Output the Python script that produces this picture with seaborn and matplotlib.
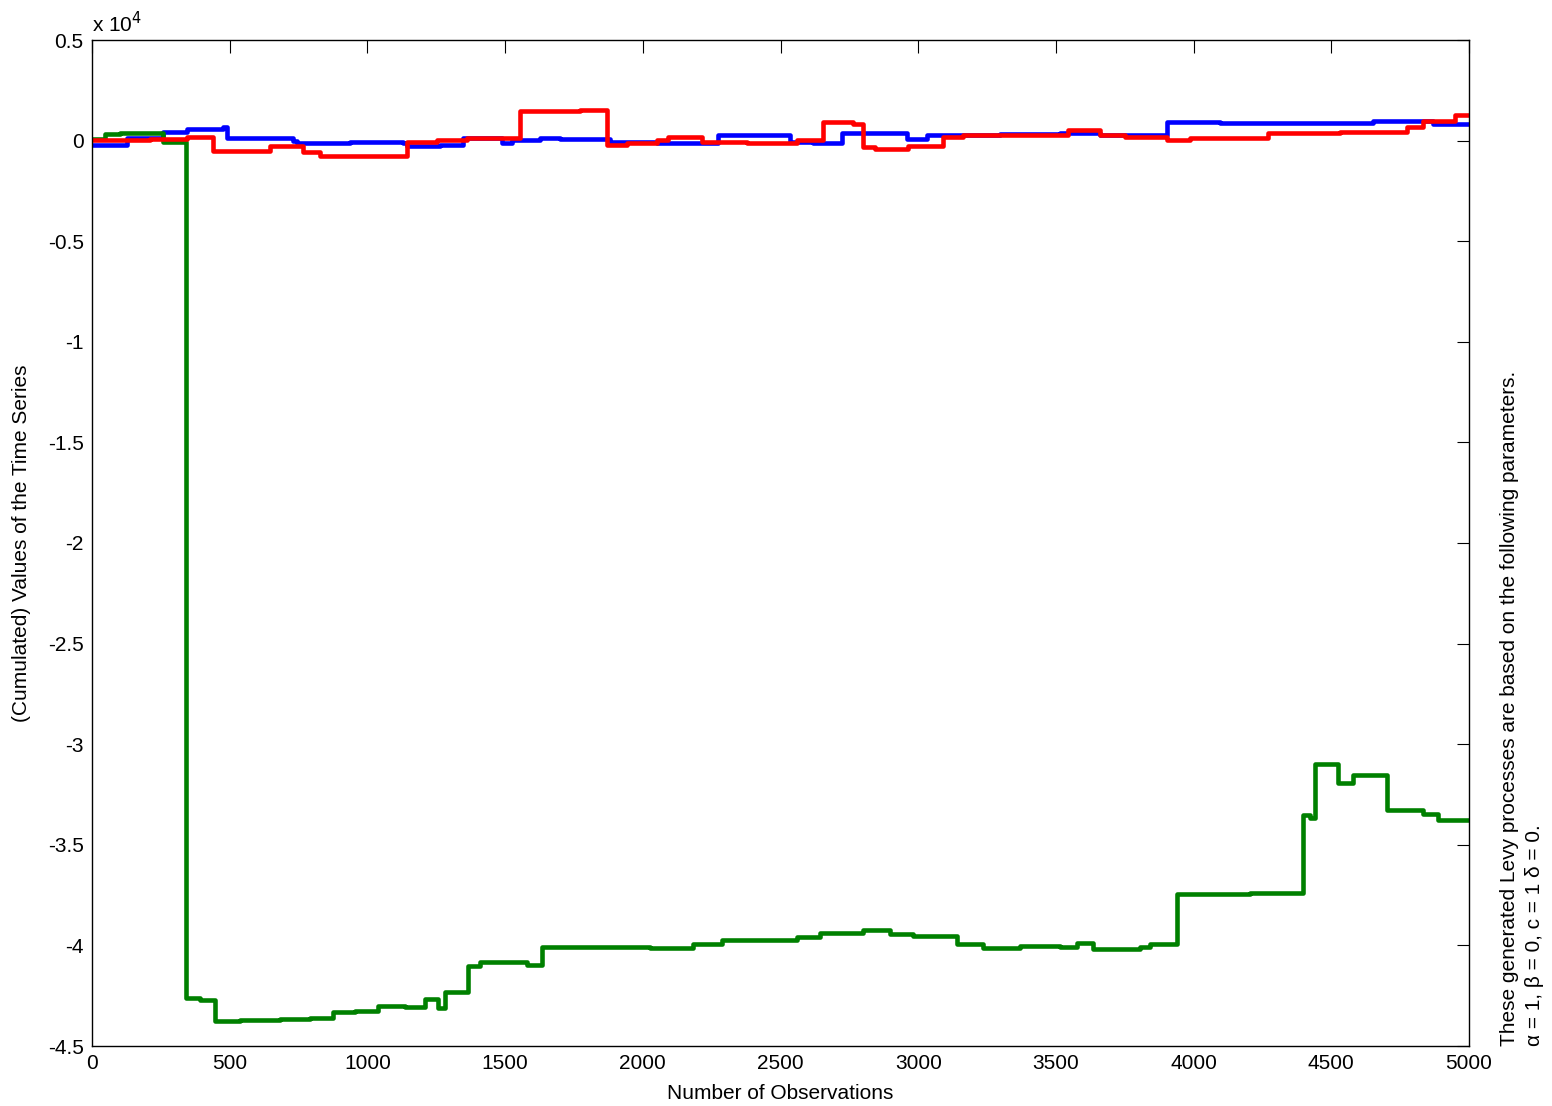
import numpy as np
import pandas as pd
import matplotlib
matplotlib.use("Agg")
import matplotlib.pyplot as plt
import seaborn as sns

# ---- data (step knots: value holds from x onward) ----
blue_x = [0, 127, 258, 345, 476, 490, 730, 744, 937, 1129, 1144, 1264, 1347, 1489, 1525, 1627,
          1699, 1881, 2052, 2182, 2273, 2534, 2618, 2723, 2959, 3032, 3297, 3515, 3660, 3903,
          4070, 4096, 4651, 4869, 5000]
blue_y = [-220, 110, 440, 560, 660, 110, 0, -130, -70, -130, -270, -220, 110, -130, 50, 110,
          60, -50, -130, -100, 280, -50, -130, 360, 60, 280, 330, 360, 280, 910,
          920, 860, 990, 830, 830]

green_x = [0, 47, 102, 258, 341, 392, 447, 537, 683, 792, 875, 955, 1038, 1137, 1209, 1256,
           1282, 1365, 1409, 1579, 1634, 1699, 2026, 2182, 2288, 2560, 2643, 2800, 2898, 2981,
           3141, 3235, 3370, 3515, 3577, 3635, 3805, 3842, 3940, 4205, 4397, 4423, 4441, 4524,
           4579, 4702, 4833, 4887, 5000]
green_y = [80, 330, 380, -45, -42610, -42710, -43780, -43700, -43680, -43630, -43330, -43260,
           -42990, -43040, -42660, -43110, -42310, -41020, -40820, -40970, -40090, -40090,
           -40140, -39950, -39730, -39570, -39400, -39230, -39410, -39520, -39940, -40140,
           -40010, -40080, -39880, -40170, -40080, -39950, -37440, -37390, -33520, -33680,
           -30980, -31910, -31530, -33270, -33470, -33770, -33770]

red_x = [0, 211, 345, 439, 646, 766, 828, 1144, 1253, 1362, 1554, 1772, 1870, 1943, 2052, 2091,
         2215, 2378, 2560, 2654, 2763, 2800, 2843, 2963, 3090, 3163, 3515, 3545, 3660, 3751,
         3903, 3987, 4270, 4531, 4775, 4833, 4949, 5000]
red_y = [30, 100, 160, -500, -250, -550, -750, -50, 30, 110, 1470, 1520, -220, -100, 30, 190,
         -50, -130, 30, 910, 810, -300, -420, -270, 190, 280, 300, 530, 280, 190,
         30, 110, 360, 440, 690, 970, 1270, 1270]

y_ticks = [-45000, -40000, -35000, -30000, -25000, -20000, -15000, -10000, -5000, 0, 5000]
y_tick_labels = ["-4.5", "-4", "-3.5", "-3", "-2.5", "-2", "-1.5", "-1", "-0.5", "0", "0.5"]
x_ticks = [0, 500, 1000, 1500, 2000, 2500, 3000, 3500, 4000, 4500, 5000]

sns.set_style("white")
plt.rcParams['font.family'] = ['Liberation Sans', 'DejaVu Sans']
plt.rcParams['text.color'] = 'black'
plt.rcParams['axes.labelcolor'] = 'black'

fig = plt.figure(figsize=(15.52, 11.06), dpi=100)
ax = fig.add_axes([92/1552, 1 - 1046/1106, (1469-92)/1552, (1046-40)/1106])

series = [("blue", blue_x, blue_y, (0, 0, 1)),
          ("green", green_x, green_y, (0, 0.5, 0)),
          ("red", red_x, red_y, (1, 0, 0))]
for name, xs, ys, col in series:
    df = pd.DataFrame({"x": xs, "y": ys})
    sns.lineplot(data=df, x="x", y="y", ax=ax, color=col, linewidth=3.3,
                 drawstyle="steps-post", estimator=None, sort=False,
                 solid_joinstyle="round", solid_capstyle="round")

ax.set_xlim(0, 5000)
ax.set_ylim(-45000, 5000)
ax.set_xticks(x_ticks)
ax.set_xticklabels([str(t) for t in x_ticks])
ax.set_yticks(y_ticks)
ax.set_yticklabels(y_tick_labels)
ax.tick_params(direction="in", length=9, width=0.8, top=True, right=True,
               labelsize=15, pad=6, colors="black")
for s in ax.spines.values():
    s.set_visible(True)
    s.set_color("black")
    s.set_linewidth(1.0)

ax.set_xlabel("Number of Observations", fontsize=15, labelpad=8, color="black")
ax.set_ylabel("(Cumulated) Values of the Time Series", fontsize=15, labelpad=12, color="black")

fig.text(92/1552, 1 - 24/1106, r"x 10$^{4}$", fontsize=15, ha="left", va="center", color="black")

fig.text(1522/1552, 1 - 1046/1106,
         "These generated Levy processes are based on the following parameters.\n"
         "α = 1, β = 0, c = 1 δ = 0.",
         rotation=90, fontsize=15, ha="center", va="bottom", multialignment="left",
         linespacing=1.35, color="black")

fig.savefig("out.png", dpi=100, facecolor="white")
